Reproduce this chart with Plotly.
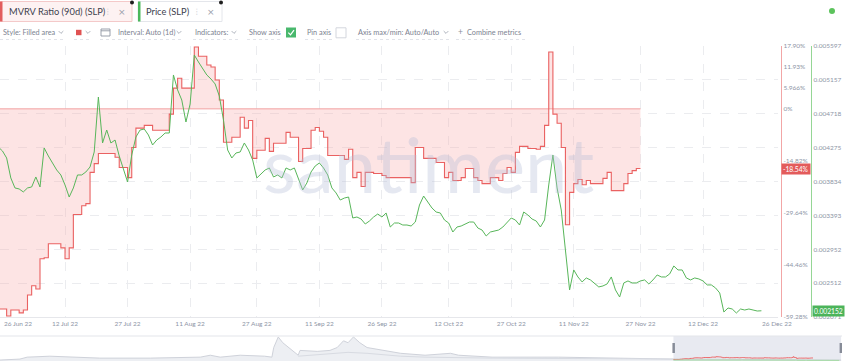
import plotly.graph_objects as go
import pandas as pd

W, H = 850, 362
FONT = "Lato"


def X(p):
    return p / W


def Y(p):
    return 1 - p / H


# ---------------- data ----------------
mvrv_dates = [
    "2022-06-26", "2022-06-28", "2022-06-29", "2022-07-01", "2022-07-02", "2022-07-03",
    "2022-07-04", "2022-07-05", "2022-07-06", "2022-07-07", "2022-07-08", "2022-07-11",
    "2022-07-12", "2022-07-13", "2022-07-14", "2022-07-16", "2022-07-17", "2022-07-18",
    "2022-07-19", "2022-07-20", "2022-07-24", "2022-07-25", "2022-07-27", "2022-07-28",
    "2022-07-29", "2022-07-31", "2022-08-02", "2022-08-06", "2022-08-07", "2022-08-08",
    "2022-08-09", "2022-08-12", "2022-08-13", "2022-08-15", "2022-08-16", "2022-08-17",
    "2022-08-18", "2022-08-19", "2022-08-21", "2022-08-23", "2022-08-24", "2022-08-25",
    "2022-08-26", "2022-08-27", "2022-08-29", "2022-08-30", "2022-08-31", "2022-09-03",
    "2022-09-04", "2022-09-06", "2022-09-07", "2022-09-09", "2022-09-10", "2022-09-11",
    "2022-09-12", "2022-09-13", "2022-09-17", "2022-09-18", "2022-09-19", "2022-09-20",
    "2022-09-21", "2022-09-22", "2022-09-24", "2022-09-26", "2022-09-27", "2022-10-03",
    "2022-10-04", "2022-10-06", "2022-10-09", "2022-10-11", "2022-10-12", "2022-10-13",
    "2022-10-15", "2022-10-16", "2022-10-18", "2022-10-19", "2022-10-20", "2022-10-22",
    "2022-10-24", "2022-10-25", "2022-10-26", "2022-10-27", "2022-10-28", "2022-10-29",
    "2022-10-31", "2022-11-02", "2022-11-03", "2022-11-04", "2022-11-05", "2022-11-06",
    "2022-11-07", "2022-11-08", "2022-11-09", "2022-11-10", "2022-11-11", "2022-11-12",
    "2022-11-13", "2022-11-14", "2022-11-15", "2022-11-18", "2022-11-19", "2022-11-20",
    "2022-11-23", "2022-11-24", "2022-11-25", "2022-11-26", "2022-11-27",
]
mvrv_values = [
    -57.0, -59.0, -57.3, -58.1, -57.3, -53.0,
    -50.4, -51.3, -42.7, -42.4, -38.4, -39.6,
    -42.7, -39.6, -30.1, -27.6, -27.0, -18.1,
    -15.6, -12.7, -13.8, -16.7, -19.6, -11.0,
    -5.5, -4.7, -6.1, -1.5, 5.9, 8.7,
    5.9, 17.6, 15.0, 12.5, 11.9, 8.2,
    2.5, -9.5, -8.1, -2.4, -5.5, -3.3,
    -14.1, -11.8, -8.4, -12.1, -9.8, -6.7,
    -8.1, -15.0, -11.3, -6.1, -5.3, -6.4,
    -8.1, -13.3, -14.4, -11.5, -19.6, -18.1,
    -22.1, -18.1, -18.4, -19.0, -19.6, -21.0,
    -11.0, -14.1, -15.3, -19.6, -18.1, -20.4,
    -19.6, -17.0, -19.6, -20.4, -21.3, -19.6,
    -20.4, -18.4, -16.7, -18.1, -12.4, -10.7,
    -11.3, -11.5, -10.7, -4.7, 16.2, -1.5,
    -4.1, -11.0, -33.0, -23.8, -21.3, -20.1,
    -21.6, -20.4, -21.3, -19.8, -18.1, -23.3,
    -21.3, -18.4, -17.6, -17.0, -17.0,
]

price_start = "2022-06-26"
price_values = [
    0.004283, 0.004231, 0.004140, 0.003880, 0.003750, 0.003737, 0.003698, 0.003750,
    0.003763, 0.003893, 0.003763, 0.004270, 0.004166, 0.004075, 0.003984, 0.003919,
    0.003789, 0.003632, 0.003750, 0.003919, 0.003919, 0.003958, 0.004023, 0.004218,
    0.004933, 0.004335, 0.004504, 0.004335, 0.004374, 0.004166, 0.003984, 0.003828,
    0.004179, 0.004413, 0.004504, 0.004517, 0.004439, 0.004309, 0.004374, 0.004413,
    0.004465, 0.004465, 0.005220, 0.005025, 0.004894, 0.004608, 0.004842, 0.005480,
    0.005389, 0.005298, 0.005220, 0.005168, 0.005103, 0.004946, 0.004634, 0.004244,
    0.004140, 0.004205, 0.004218, 0.004335, 0.004244, 0.004114, 0.003880, 0.003932,
    0.003984, 0.004010, 0.003893, 0.003919, 0.003880, 0.004010, 0.003984, 0.004010,
    0.003854, 0.003724, 0.003815, 0.003958, 0.004036, 0.004075, 0.004010, 0.003919,
    0.003750, 0.003685, 0.003593, 0.003619, 0.003632, 0.003359, 0.003372, 0.003346,
    0.003281, 0.003320, 0.003372, 0.003411, 0.003372, 0.003424, 0.003242, 0.003294,
    0.003294, 0.003268, 0.003268, 0.003255, 0.003307, 0.003528, 0.003645, 0.003567,
    0.003489, 0.003437, 0.003424, 0.003333, 0.003294, 0.003177, 0.003242, 0.003255,
    0.003281, 0.003307, 0.003307, 0.003229, 0.003203, 0.003125, 0.003177, 0.003190,
    0.003203, 0.003242, 0.003307, 0.003359, 0.003333, 0.003268, 0.003437, 0.003398,
    0.003346, 0.003320, 0.003242, 0.003333, 0.003789, 0.004179, 0.003750, 0.003463,
    0.002943, 0.002423, 0.002683, 0.002592, 0.002527, 0.002579, 0.002553, 0.002501,
    0.002462, 0.002475, 0.002501, 0.002592, 0.002423, 0.002331, 0.002514, 0.002540,
    0.002514, 0.002514, 0.002540, 0.002553, 0.002501, 0.002553, 0.002618, 0.002592,
    0.002592, 0.002631, 0.002735, 0.002683, 0.002683, 0.002579, 0.002553, 0.002579,
    0.002566, 0.002540, 0.002488, 0.002488, 0.002449, 0.002384, 0.002136, 0.002188,
    0.002175, 0.002123, 0.002175, 0.002162, 0.002175, 0.002162, 0.002149, 0.002152,
]
price_dates = pd.date_range(price_start, periods=len(price_values), freq="D")

mvrv_tick_vals = [17.90, 11.93, 5.966, 0, -14.82, -29.64, -44.46, -59.28]
mvrv_tick_text = ["17.90%", "11.93%", "5.966%", "0%", "-14.82%", "-29.64%", "-44.46%", "-59.28%"]
price_tick_vals = [0.005597, 0.005157, 0.004718, 0.004275, 0.003834, 0.003393, 0.002952, 0.002512, 0.002071]
price_tick_text = ["0.005597", "0.005157", "0.004718", "0.004275", "0.003834", "0.003393", "0.002952", "0.002512", "0.002071"]
x_tick_vals = ["2022-07-12", "2022-07-27", "2022-08-11", "2022-08-27", "2022-09-11", "2022-09-26",
               "2022-10-12", "2022-10-27", "2022-11-11", "2022-11-27", "2022-12-12"]
x_tick_text = ["12 Jul 22", "27 Jul 22", "11 Aug 22", "27 Aug 22", "11 Sep 22", "26 Sep 22",
               "12 Oct 22", "27 Oct 22", "11 Nov 22", "27 Nov 22", "12 Dec 22"]
x_edge_labels = ["26 Jun 22", "26 Dec 22"]
mvrv_last_label = "-18.54%"
price_last_label = "0.002152"

# navigator (full history overview)
nav_dates = ["2020-06-13", "2020-07-05", "2020-07-13", "2020-08-07", "2020-10-01", "2020-11-26",
             "2021-01-20", "2021-01-31", "2021-02-11", "2021-03-05", "2021-04-01", "2021-04-09",
             "2021-04-11", "2021-04-16", "2021-04-21", "2021-04-29", "2021-05-08", "2021-05-10",
             "2021-05-29", "2021-06-12", "2021-06-20", "2021-06-27", "2021-07-02", "2021-07-08",
             "2021-07-15", "2021-07-23", "2021-08-10", "2021-08-29", "2021-09-25", "2021-10-23",
             "2021-11-01", "2021-12-08", "2022-02-19", "2022-05-04", "2022-06-26", "2022-09-30",
             "2022-12-28"]
nav_a = [1, 2, 4, 5, 3, 3, 4, 6, 4, 6, 5, 4, 14, 25, 19, 13, 6, 11, 10, 11, 14, 21, 19, 25,
         19, 14, 11, 8, 6, 8, 6, 4, 4, 3, 2, 1.5, 1]
nav_b_dates = ["2021-05-08", "2021-06-12", "2021-07-02", "2021-07-23", "2021-08-29", "2021-09-25",
               "2021-12-08", "2022-06-26"]
nav_b = [5, 8, 9, 8, 5, 4, 3, 2]
nav_sel = ["2022-06-26", "2022-12-28"]

# ---------------- figure ----------------
fig = go.Figure()

fig.add_trace(go.Scatter(x=[mvrv_dates[0], mvrv_dates[-1]], y=[0, 0], mode="lines",
                         line=dict(color="#f2a2a2", width=1), hoverinfo="skip", showlegend=False))
fig.add_trace(go.Scatter(x=mvrv_dates, y=mvrv_values, mode="lines",
                         line=dict(color="#ea6161", width=1.1, shape="hv"),
                         fill="tozeroy", fillcolor="rgba(248,165,165,0.30)", showlegend=False))
fig.add_trace(go.Scatter(x=price_dates, y=price_values, yaxis="y2", mode="lines",
                         line=dict(color="#58b65a", width=1), showlegend=False))

# navigator traces
fig.add_trace(go.Scatter(x=nav_dates, y=nav_a, xaxis="x2", yaxis="y3", mode="lines",
                         fill="tozeroy", fillcolor="rgba(222,225,234,0.55)",
                         line=dict(color="#cfd2da", width=1), showlegend=False))
fig.add_trace(go.Scatter(x=nav_b_dates, y=nav_b, xaxis="x2", yaxis="y3", mode="lines",
                         line=dict(color="#d8dbe2", width=1), showlegend=False))
fig.add_trace(go.Scatter(x=mvrv_dates, y=mvrv_values, xaxis="x2", yaxis="y4", mode="lines",
                         line=dict(color="#ec6b6b", width=1, shape="hv"), showlegend=False))
fig.add_trace(go.Scatter(x=price_dates, y=price_values, xaxis="x2", yaxis="y5", mode="lines",
                         line=dict(color="#a5dba5", width=1), showlegend=False))

tickfont = dict(family=FONT, size=6.5, color="#8e95a6")

fig.update_layout(
    width=W, height=H,
    margin=dict(l=0, r=0, t=0, b=0),
    paper_bgcolor="white", plot_bgcolor="white",
    font=dict(family=FONT),
    showlegend=False,
    xaxis=dict(domain=[0, X(778)], anchor="y", type="date",
               range=["2022-06-26 09:47", "2022-12-29 23:30"],
               tickvals=x_tick_vals, ticktext=x_tick_text, tickfont=tickfont,
               showgrid=True, gridcolor="#ebecef", griddash="dash", gridwidth=1,
               showline=True, linecolor="#e6e7eb", linewidth=1, ticks="",
               zeroline=False, automargin=False, fixedrange=True),
    yaxis=dict(domain=[Y(317), Y(46)], range=[-59.28, 17.90], side="right",
               anchor="free", position=X(781),
               showline=True, linecolor="#f2a6a6", linewidth=1.3,
               tickvals=mvrv_tick_vals, ticktext=mvrv_tick_text, tickfont=tickfont,
               showgrid=False, zeroline=False, ticks="", automargin=False),
    yaxis2=dict(overlaying="y", range=[0.002071, 0.005597], side="right",
                anchor="free", position=X(811),
                showline=True, linecolor="#95d695", linewidth=1.3,
                tickvals=price_tick_vals, ticktext=price_tick_text, tickfont=tickfont,
                showgrid=True, gridcolor="#ebecef", griddash="dash", gridwidth=1,
                zeroline=False, ticks="", automargin=False),
    xaxis2=dict(domain=[0, X(842)], anchor="y3", type="date",
                range=["2020-06-13", "2022-12-29"], visible=False),
    yaxis3=dict(domain=[Y(361), Y(336)], anchor="x2", range=[0, 26], visible=False),
    yaxis4=dict(overlaying="y3", anchor="x2", range=[-99, 577], visible=False),
    yaxis5=dict(overlaying="y3", anchor="x2", range=[-0.0015, 0.1502], visible=False),
)

shapes = []
annotations = []


def rect(x0, y0, x1, y1, fill=None, line=None, lw=1, layer="above"):
    shapes.append(dict(type="rect", xref="paper", yref="paper",
                       x0=X(x0), x1=X(x1), y0=Y(y1), y1=Y(y0),
                       fillcolor=fill if fill else "rgba(0,0,0,0)",
                       line=dict(color=line if line else "rgba(0,0,0,0)", width=lw if line else 0),
                       layer=layer))


def hline(x0, x1, y, color, dash="solid", w=1):
    shapes.append(dict(type="line", xref="paper", yref="paper", x0=X(x0), x1=X(x1),
                       y0=Y(y), y1=Y(y), line=dict(color=color, width=w, dash=dash)))


def path(pts, color, w=1):
    d = "M " + " L ".join(f"{X(a):.5f},{Y(b):.5f}" for a, b in pts)
    shapes.append(dict(type="path", xref="paper", yref="paper", path=d,
                       line=dict(color=color, width=w)))


def text(x, y, s, size=7.3, color="#7d8391", anchor="left", family=FONT):
    annotations.append(dict(x=X(x), y=Y(y), xref="paper", yref="paper", text=s,
                            showarrow=False, xanchor=anchor, yanchor="middle",
                            font=dict(family=family, size=size, color=color)))


def chevron(cx, cy=32.3):
    path([(cx - 2.3, cy - 1.2), (cx, cy + 1.1), (cx + 2.3, cy - 1.2)], "#a4a9b4", 0.9)


# ---- tabs ----
rect(0.5, 1.5, 132, 21.5, fill="#fdf2f2", line="#f4c9c9")
rect(0, 1.5, 2.5, 21.5, fill="#e25e5e")
text(7, 11.8, "MVRV Ratio (90d) (SLP)", size=9.3, color="#3d424e")
text(107.5, 11.5, "⋮", size=7.5, color="#c3c7cf", anchor="center", family="DejaVu Sans")
text(122, 11.5, "×", size=9, color="#9aa0ab", anchor="center", family="DejaVu Sans")
rect(138, 1.5, 222, 21.5, fill="white", line="#e4e6eb")
rect(138, 1.5, 140.5, 21.5, fill="#4cb85c")
text(144, 11.8, "Price (SLP)", size=9.3, color="#3d424e")
text(197, 11.5, "⋮", size=7.5, color="#c3c7cf", anchor="center", family="DejaVu Sans")
text(211, 11.5, "×", size=9, color="#9aa0ab", anchor="center", family="DejaVu Sans")
for px_ in (132, 221):
    shapes.append(dict(type="circle", xref="paper", yref="paper", x0=X(px_ - 2), x1=X(px_ + 2),
                       y0=Y(4.5), y1=Y(0.5), fillcolor="#1e1e1e", line=dict(width=0)))

# ---- settings row ----
text(1, 32.3, "Style: Filled area")
chevron(61)
rect(76, 29.8, 81.5, 35.2, fill="#e05252")
chevron(88)
rect(101, 29, 110, 36, line="#8f95a3", lw=0.9)
hline(101, 110, 30.8, "#8f95a3", w=0.9)
text(116, 32.3, "Interval: Auto (1d)")
chevron(179)
text(193, 32.3, "Indicators:")
chevron(234)
text(247, 32.3, "Show axis")
rect(286, 27.5, 296, 37.5, fill="#49b86d")
path([(288.3, 32.6), (290.5, 34.9), (294, 30.2)], "white", 1.2)
text(305, 32.3, "Pin axis")
rect(336, 27.8, 346, 37.8, fill="white", line="#d3d6dd")
text(356, 32.3, "Axis max/min: Auto/Auto")
chevron(446)
text(455.5, 32.0, "+", size=8.5, color="#8a909c")
text(465, 32.3, "Combine metrics")
for a, b in [(0, 64), (74, 92), (100, 183), (193, 238), (247, 282), (305, 332), (356, 449), (456, 525)]:
    hline(a, b, 39.5, "#d9dce3", dash="dot", w=0.8)
shapes.append(dict(type="circle", xref="paper", yref="paper", x0=X(829), x1=X(835),
                   y0=Y(14), y1=Y(8), fillcolor="#5cc35c", line=dict(width=0)))

# ---- watermark ----
annotations.append(dict(x=X(428), y=Y(163), xref="paper", yref="paper", text="santiment",
                        showarrow=False, xanchor="center", yanchor="middle",
                        font=dict(family=FONT, size=76, color="rgba(180,189,214,0.35)")))

# ---- edge date labels ----
text(17.5, 323.5, x_edge_labels[0], size=6.5, color="#8e95a6", anchor="center")
text(777, 323.5, x_edge_labels[1], size=6.5, color="#8e95a6", anchor="center")

# ---- last value tags ----
annotations.append(dict(x=X(795.5), xref="paper", y=mvrv_values[-1], yref="y",
                        text=mvrv_last_label, showarrow=False, xanchor="center", yanchor="middle",
                        bgcolor="#e35b5b", borderpad=1,
                        font=dict(family=FONT, size=6.7, color="white")))
annotations.append(dict(x=X(828), xref="paper", y=price_values[-1], yref="y2",
                        text=price_last_label, showarrow=False, xanchor="center", yanchor="middle",
                        bgcolor="#4cb45a", borderpad=1,
                        font=dict(family=FONT, size=6.7, color="white")))

# ---- navigator decorations ----
shapes.append(dict(type="rect", xref="x2", yref="paper", x0=nav_sel[0], x1=nav_sel[1],
                   y0=Y(361), y1=Y(336), fillcolor="#e8eaf1", line=dict(width=0), layer="below"))
hline(0, 842, 336, "#e3e5ea")
for anchor_date, (o0, o1) in zip(nav_sel, [(-1, 1.5), (-1.5, 1)]):
    shapes.append(dict(type="rect", xref="x2", yref="paper", xsizemode="pixel",
                       xanchor=anchor_date, x0=o0, x1=o1, y0=Y(353), y1=Y(343),
                       fillcolor="#878c98", line=dict(width=0)))

fig.update_layout(shapes=shapes, annotations=annotations)
fig.write_html("out.html",
               config={"displayModeBar": False},
               post_script="document.body.style.margin='0';document.body.style.padding='0';"
                           "document.body.style.overflow='hidden';")
